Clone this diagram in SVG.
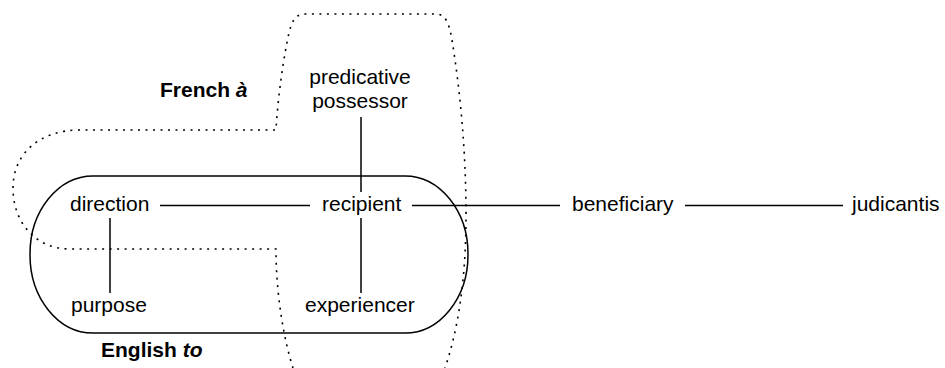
<svg xmlns="http://www.w3.org/2000/svg" width="945" height="368" viewBox="0 0 945 368">
<style>
.t{font-family:"Liberation Sans",Arial,sans-serif;font-size:21px;fill:#000}
.b{font-weight:bold}
.l{stroke:#000;stroke-width:1.5;fill:none}
.d{stroke:#000;stroke-width:1.6;fill:none;stroke-dasharray:2 5.5}
</style>
<rect width="945" height="368" fill="#fff"/>
<g id="french-a-region">
<path class="d" d="M 293 368 C 284 340, 276 295, 276 249 L 70 249 C 35 249, 13 222, 13 188 C 13 155, 38 130, 80 130 L 276 130 C 278 95, 284 55, 289 33 C 292 20, 296 14, 305 14 L 436 14 C 445 14, 449 22, 452 40 C 460 90, 466 150, 466 215 C 466 280, 458 330, 445 368"/>
<text class="t b" x="160" y="97">French <tspan font-style="italic">à</tspan></text>
</g>
<g id="english-to-region">
<rect class="l" x="30" y="176" width="438" height="157" rx="63" ry="78"/>
<text class="t b" x="101" y="357">English <tspan font-style="italic">to</tspan></text>
</g>
<g id="connectors">
<line class="l" x1="160" y1="205.5" x2="310" y2="205.5"/>
<line class="l" x1="412" y1="205.5" x2="560" y2="205.5"/>
<line class="l" x1="685" y1="205.5" x2="843" y2="205.5"/>
<line class="l" x1="361" y1="117" x2="361" y2="192"/>
<line class="l" x1="361" y1="218" x2="361" y2="293"/>
<line class="l" x1="110" y1="218" x2="110" y2="293"/>
</g>
<g id="direction"><text class="t" x="70" y="211">direction</text></g>
<g id="recipient"><text class="t" x="322" y="211">recipient</text></g>
<g id="beneficiary"><text class="t" x="572" y="211">beneficiary</text></g>
<g id="judicantis"><text class="t" x="852" y="211">judicantis</text></g>
<g id="purpose"><text class="t" x="71" y="312">purpose</text></g>
<g id="experiencer"><text class="t" x="305" y="312">experiencer</text></g>
<g id="predicative-possessor"><text class="t" text-anchor="middle" x="360" y="84">predicative</text><text class="t" text-anchor="middle" x="360" y="108">possessor</text></g>
</svg>
